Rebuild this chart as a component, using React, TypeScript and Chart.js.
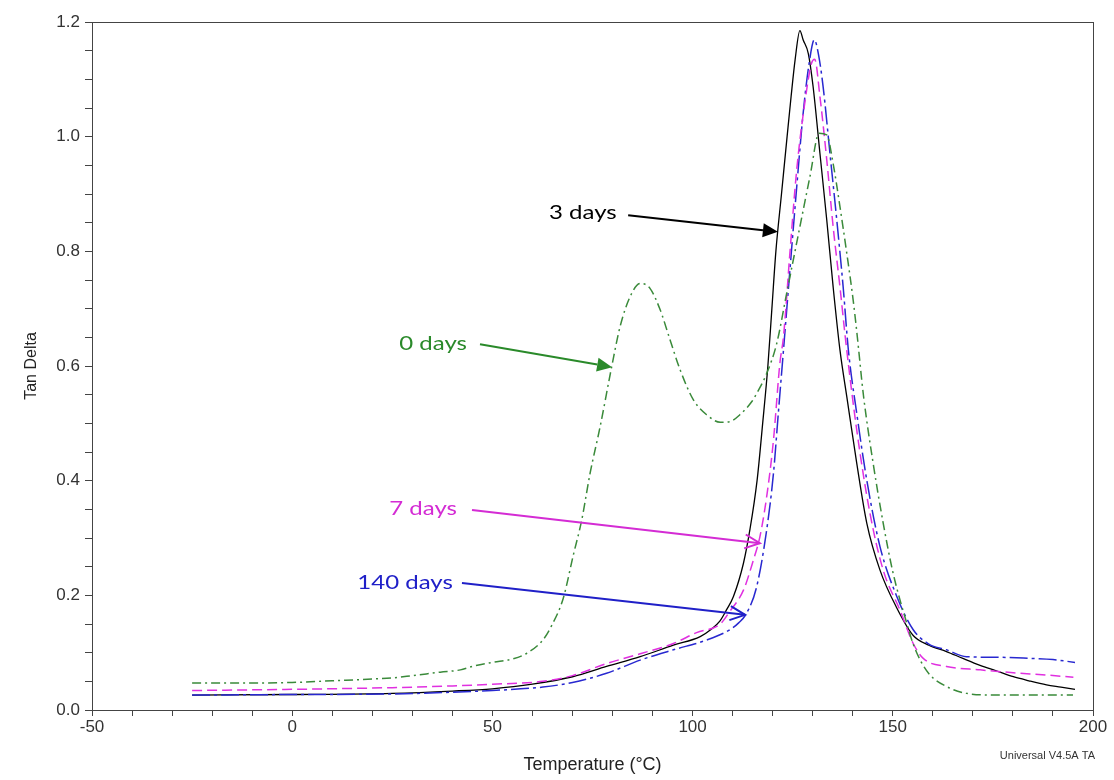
import React, { useEffect, useRef } from 'react';
import { Chart, registerables } from 'chart.js';

Chart.register(...registerables);

// ---- Data ----
const temp0 = [-25, -15, 0, 10, 20, 25, 30, 37, 42, 45, 50, 55, 58.6, 62.6, 65, 67.7, 70.2, 72.3, 74.4, 76.9, 79.8, 81.9, 84.4, 86.9, 89.4, 91.9, 94.4, 96.9, 100.2, 103.5, 106.9, 109.3, 111.8, 114.8, 116, 118.5, 121, 123.5, 126.8, 129.3, 131.6, 133.5, 135.1, 136.8, 138.5, 140.1, 141, 142.7, 145.1, 147.6, 150.1, 153.5, 155.1, 157, 159.3, 163.4, 168.4, 175.9, 185, 195];
const tan0 = [0.047, 0.047, 0.048, 0.051, 0.054, 0.056, 0.060, 0.066, 0.070, 0.076, 0.083, 0.089, 0.099, 0.122, 0.150, 0.195, 0.270, 0.331, 0.413, 0.494, 0.599, 0.669, 0.721, 0.744, 0.735, 0.698, 0.645, 0.593, 0.541, 0.515, 0.502, 0.503, 0.515, 0.538, 0.552, 0.587, 0.639, 0.727, 0.843, 0.930, 1.006, 1.003, 0.953, 0.878, 0.797, 0.715, 0.660, 0.547, 0.430, 0.326, 0.238, 0.151, 0.115, 0.085, 0.061, 0.041, 0.029, 0.026, 0.026, 0.026];

const temp3 = [-25, 0, 25, 40, 50, 60, 70, 78.5, 86.9, 95.2, 101.9, 104.5, 106.8, 108.5, 110.2, 112.7, 114.3, 116.1, 117.5, 118.8, 119.8, 120.8, 122.2, 123.6, 124.6, 125.6, 126.8, 127.6, 128.9, 130.1, 131.8, 133.5, 135.1, 136.8, 138.5, 141, 143.5, 146.8, 151, 155.1, 159, 163.4, 167.5, 171.8, 176, 180.1, 184, 188.4, 192, 195.5];
const tan3 = [0.026, 0.027, 0.029, 0.033, 0.037, 0.045, 0.058, 0.076, 0.093, 0.113, 0.128, 0.140, 0.155, 0.175, 0.198, 0.256, 0.314, 0.400, 0.500, 0.600, 0.700, 0.800, 0.900, 1.000, 1.070, 1.134, 1.185, 1.169, 1.145, 1.087, 0.971, 0.855, 0.738, 0.628, 0.547, 0.430, 0.326, 0.244, 0.178, 0.130, 0.113, 0.102, 0.090, 0.078, 0.068, 0.058, 0.051, 0.044, 0.040, 0.036];

const temp7 = [-25, 0, 25, 40, 50, 62.6, 70, 78.5, 86.9, 95.2, 101, 106.9, 109.3, 112.7, 115.2, 116.8, 118.5, 120.2, 121.8, 122.7, 124.3, 126, 128, 129.7, 130.5, 131.8, 133.5, 135.1, 136.8, 138.3, 141, 144.3, 147.6, 151.8, 155.1, 157.6, 163.4, 171.8, 180.1, 188.4, 195.1];
const tan7 = [0.034, 0.036, 0.039, 0.042, 0.045, 0.050, 0.060, 0.081, 0.098, 0.116, 0.135, 0.150, 0.172, 0.209, 0.262, 0.302, 0.372, 0.471, 0.605, 0.651, 0.797, 0.942, 1.058, 1.128, 1.135, 1.070, 0.960, 0.843, 0.738, 0.640, 0.488, 0.343, 0.244, 0.174, 0.116, 0.090, 0.076, 0.070, 0.065, 0.061, 0.057];

const temp140 = [-25, 0, 25, 40, 50, 62.6, 70, 78.5, 86.9, 95.2, 103.5, 109.3, 111.5, 113.5, 116, 118.5, 120.2, 121.4, 122.7, 124.3, 126, 127.6, 129.1, 130.4, 131.4, 132.6, 134.3, 136, 137.6, 138.9, 141, 143.5, 146.8, 151, 155.1, 159, 163.4, 168.4, 175.9, 184.3, 190, 195.5];
const tan140 = [0.026, 0.027, 0.028, 0.031, 0.034, 0.040, 0.048, 0.064, 0.087, 0.105, 0.122, 0.140, 0.152, 0.169, 0.215, 0.314, 0.413, 0.517, 0.628, 0.767, 0.912, 1.040, 1.128, 1.169, 1.145, 1.087, 0.971, 0.855, 0.738, 0.628, 0.517, 0.401, 0.285, 0.198, 0.140, 0.115, 0.105, 0.093, 0.092, 0.090, 0.088, 0.083];

const xMajorLabels = [-50, 0, 50, 100, 150, 200];
const yMajorLabels = [0.0, 0.2, 0.4, 0.6, 0.8, 1.0, 1.2];

// Annotation labels (data coordinates)
const annotations = [
  { text: '3 days', color: '#000000', tx: 72.6, ty: 0.867, x1: 83.9, y1: 0.863, x2: 121.3, y2: 0.834, filled: true },
  { text: '0 days', color: '#2a8a2a', tx: 35.2, ty: 0.640, x1: 46.9, y1: 0.638, x2: 79.9, y2: 0.598, filled: true },
  { text: '7 days', color: '#d42cd4', tx: 32.7, ty: 0.351, x1: 44.9, y1: 0.349, x2: 116.8, y2: 0.291, filled: false },
  { text: '140 days', color: '#2020c8', tx: 28.2, ty: 0.223, x1: 42.4, y1: 0.2215, x2: 113.1, y2: 0.166, filled: false },
];

const toPts = (xs: number[], ys: number[]) => xs.map((x, i) => ({ x, y: ys[i] }));

const framePlugin = {
  id: 'frame',
  afterDraw(chart: any) {
    const { ctx, chartArea: a } = chart;
    ctx.save();
    ctx.strokeStyle = '#444';
    ctx.lineWidth = 1;
    ctx.strokeRect(a.left + 0.5, a.top + 0.5, a.right - a.left, a.bottom - a.top);
    ctx.fillStyle = '#333';
    ctx.font = '11px "Liberation Sans", Arial, sans-serif';
    ctx.textAlign = 'right';
    ctx.textBaseline = 'middle';
    ctx.fillText('Universal V4.5A TA', chart.width - 19, chart.height - 24);
    ctx.restore();
  },
};

const annotationPlugin = {
  id: 'arrows',
  afterDatasetsDraw(chart: any) {
    const { ctx, scales } = chart;
    const xs = scales.x, ys = scales.y;
    ctx.save();
    for (const a of annotations) {
      const tx = xs.getPixelForValue(a.tx), ty = ys.getPixelForValue(a.ty);
      ctx.save();
      ctx.translate(tx, ty);
      ctx.scale(1.2, 1);
      ctx.fillStyle = a.color;
      ctx.font = '20px Lato, "Open Sans", sans-serif';
      ctx.textAlign = 'center';
      ctx.textBaseline = 'middle';
      ctx.fillText(a.text, 0, 0);
      ctx.restore();

      const x1 = xs.getPixelForValue(a.x1), y1 = ys.getPixelForValue(a.y1);
      const x2 = xs.getPixelForValue(a.x2), y2 = ys.getPixelForValue(a.y2);
      const ang = Math.atan2(y2 - y1, x2 - x1);
      const hl = 15, hw = 7;
      ctx.strokeStyle = a.color;
      ctx.fillStyle = a.color;
      ctx.lineWidth = 2;
      ctx.beginPath();
      ctx.moveTo(x1, y1);
      if (a.filled) {
        ctx.lineTo(x2 - hl * Math.cos(ang), y2 - hl * Math.sin(ang));
      } else {
        ctx.lineTo(x2, y2);
      }
      ctx.stroke();
      const bx = x2 - hl * Math.cos(ang), by = y2 - hl * Math.sin(ang);
      const px = -Math.sin(ang) * hw, py = Math.cos(ang) * hw;
      ctx.beginPath();
      if (a.filled) {
        ctx.moveTo(x2, y2);
        ctx.lineTo(bx + px, by + py);
        ctx.lineTo(bx - px, by - py);
        ctx.closePath();
        ctx.fill();
      } else {
        ctx.moveTo(bx + px, by + py);
        ctx.lineTo(x2, y2);
        ctx.lineTo(bx - px, by - py);
        ctx.stroke();
      }
    }
    ctx.restore();
  },
};

export default function App() {
  const ref = useRef<HTMLCanvasElement>(null);
  useEffect(() => {
    document.body.style.margin = '0';
    const tickFont = { family: '"Liberation Sans", Arial, sans-serif', size: 17 };
    const chart = new Chart(ref.current as HTMLCanvasElement, {
      type: 'line',
      data: {
        datasets: [
          { label: '0 days', data: toPts(temp0, tan0), borderColor: '#3a8a3a', borderWidth: 1.5, borderDash: [9, 4, 2, 4], pointRadius: 0, cubicInterpolationMode: 'monotone', fill: false },
          { label: '7 days', data: toPts(temp7, tan7), borderColor: '#e030e0', borderWidth: 1.5, borderDash: [10, 5], pointRadius: 0, cubicInterpolationMode: 'monotone', fill: false },
          { label: '140 days', data: toPts(temp140, tan140), borderColor: '#2828d0', borderWidth: 1.5, borderDash: [18, 4, 3, 4], pointRadius: 0, cubicInterpolationMode: 'monotone', fill: false },
          { label: '3 days', data: toPts(temp3, tan3), borderColor: '#000000', borderWidth: 1.3, pointRadius: 0, cubicInterpolationMode: 'monotone', fill: false },
        ],
      },
      options: {
        animation: false,
        responsive: true,
        maintainAspectRatio: false,
        layout: { padding: { left: 0, top: 22, right: 21, bottom: 0 } },
        plugins: { legend: { display: false }, tooltip: { enabled: false } },
        scales: {
          x: {
            type: 'linear',
            min: -50,
            max: 200,
            afterFit: (s: any) => { s.height = 70; },
            border: { display: true, color: '#444', width: 1 },
            grid: { drawOnChartArea: false, drawTicks: true, tickLength: 6, color: '#444' },
            ticks: {
              stepSize: 10,
              autoSkip: false,
              maxRotation: 0,
              padding: 1,
              color: '#333',
              font: tickFont,
              callback: (v: any) => (xMajorLabels.includes(Number(v)) ? String(v) : ''),
            },
            title: {
              display: true,
              text: 'Temperature (°C)',
              color: '#222',
              font: { family: '"Liberation Sans", Arial, sans-serif', size: 18 },
              padding: { top: 0, bottom: 4 },
            },
          },
          y: {
            type: 'linear',
            min: 0,
            max: 1.2,
            afterFit: (s: any) => { s.width = 92; },
            border: { display: true, color: '#444', width: 1 },
            grid: { drawOnChartArea: false, drawTicks: true, tickLength: 7, color: '#444' },
            ticks: {
              stepSize: 0.05,
              autoSkip: false,
              padding: 5,
              color: '#333',
              font: tickFont,
              callback: (v: any) => {
                const n = Number(v);
                return yMajorLabels.some((m) => Math.abs(m - n) < 1e-6) ? n.toFixed(1) : '';
              },
            },
            title: {
              display: true,
              text: 'Tan Delta',
              color: '#222',
              font: { family: '"Liberation Sans", Arial, sans-serif', size: 16 },
              padding: { top: 22, bottom: 0 },
            },
          },
        },
      } as any,
      plugins: [framePlugin, annotationPlugin],
    });
    return () => chart.destroy();
  }, []);
  return (
    <div style={{ width: 1114, height: 780, position: 'relative', background: '#fff' }}>
      <canvas ref={ref} />
    </div>
  );
}
